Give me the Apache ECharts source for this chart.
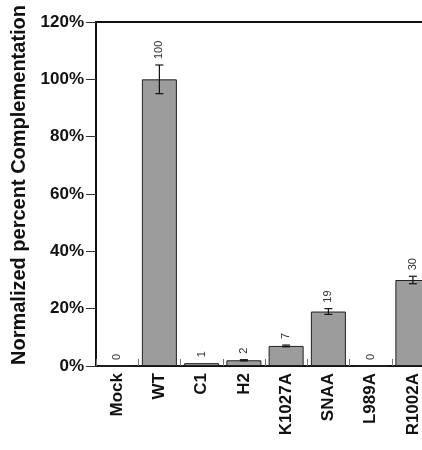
<!DOCTYPE html>
<html>
<head>
<meta charset="utf-8">
<script src="https://cdn.jsdelivr.net/npm/echarts@6/dist/echarts.min.js"></script>
<style>
html, body { margin: 0; padding: 0; background: #fff; }
#chart { width: 422px; height: 450px; }
</style>
</head>
<body>
<div id="chart"></div>
<script>
var categories = ['Mock', 'WT', 'C1', 'H2', 'K1027A', 'SNAA', 'L989A', 'R1002A'];
var values = [0, 100, 1, 2, 7, 19, 0, 30];
var errors = [0, 5, 0, 0.2, 0.3, 1, 0, 1.3];
var yTicks = [0, 20, 40, 60, 80, 100, 120];

var chart = echarts.init(document.getElementById('chart'));

var errData = values.map(function (v, i) {
    return [i, v - errors[i], v + errors[i], v];
});

var option = {
    animation: false,
    textStyle: { fontFamily: 'Liberation Sans, Arial, sans-serif' },
    grid: {
        left: 96,
        top: 22,
        bottom: 84,
        right: -12,
        outerBoundsMode: 'none',
        containLabel: false,
        show: true,
        borderColor: '#111',
        borderWidth: 2,
        backgroundColor: 'transparent'
    },
    xAxis: {
        type: 'category',
        data: categories,
        axisLine: { lineStyle: { color: '#111', width: 2 } },
        axisTick: {
            show: true,
            inside: true,
            length: 7,
            lineStyle: { color: '#777', width: 1 }
        },
        axisLabel: {
            rotate: 90,
            margin: 7,
            color: '#111',
            fontWeight: 'bold',
            fontSize: 17,
            fontFamily: 'Liberation Sans'
        }
    },
    yAxis: {
        type: 'value',
        min: yTicks[0],
        max: yTicks[yTicks.length - 1],
        interval: 20,
        name: 'Normalized percent Complementation',
        nameLocation: 'middle',
        nameGap: 67,
        nameTextStyle: {
            color: '#111',
            fontWeight: 'bold',
            fontSize: 20,
            fontFamily: 'Liberation Sans',
            padding: [0, 0, 0, 18]
        },
        splitLine: { show: false },
        axisLine: { show: true, lineStyle: { color: '#111', width: 2 } },
        axisTick: { show: true, length: 10, lineStyle: { color: '#333', width: 1 } },
        axisLabel: {
            formatter: '{value}%',
            margin: 12,
            color: '#111',
            fontWeight: 'bold',
            fontSize: 17,
            fontFamily: 'Liberation Sans'
        }
    },
    series: [
        {
            type: 'bar',
            data: values,
            barWidth: 35,
            itemStyle: { color: '#9c9c9c', borderColor: '#222', borderWidth: 1 }
        },
        {
            type: 'custom',
            data: errData,
            z: 5,
            renderItem: function (params, api) {
                var x = api.coord([api.value(0), 0])[0];
                var lo = api.coord([api.value(0), api.value(1)])[1];
                var hi = api.coord([api.value(0), api.value(2)])[1];
                var cap = 4;
                var children = [];
                if (hi < lo - 0.5) {
                    var st = { stroke: '#111', lineWidth: 1.2 };
                    children.push(
                        { type: 'line', shape: { x1: x, y1: lo, x2: x, y2: hi }, style: st },
                        { type: 'line', shape: { x1: x - cap, y1: lo, x2: x + cap, y2: lo }, style: st },
                        { type: 'line', shape: { x1: x - cap, y1: hi, x2: x + cap, y2: hi }, style: st }
                    );
                }
                children.push({
                    type: 'text',
                    x: x,
                    y: hi - 6,
                    rotation: Math.PI / 2,
                    style: {
                        text: String(api.value(3)),
                        fill: '#333',
                        fontSize: 11,
                        fontFamily: 'Liberation Sans',
                        align: 'left',
                        verticalAlign: 'middle'
                    }
                });
                return { type: 'group', children: children };
            }
        }
    ]
};

chart.setOption(option);
</script>
</body>
</html>
